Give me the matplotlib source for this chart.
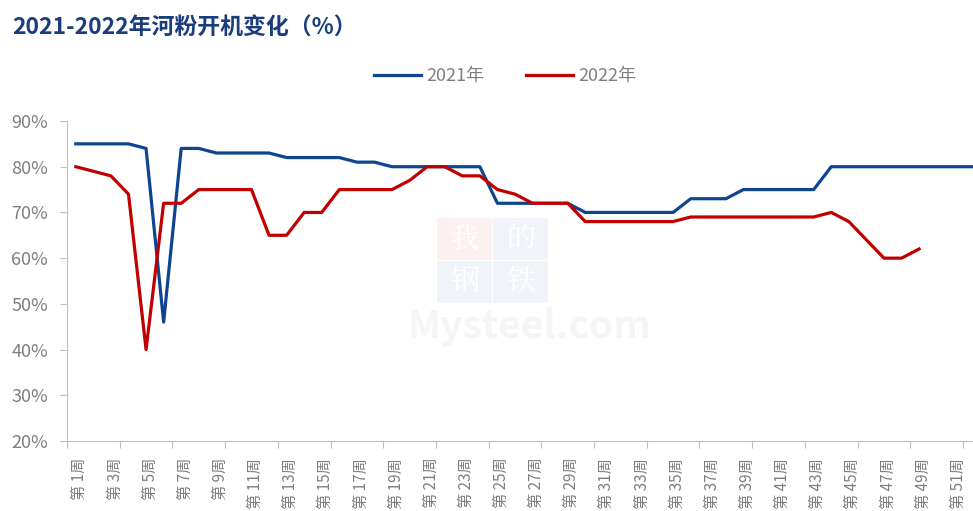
import matplotlib
matplotlib.use('Agg')
import matplotlib.pyplot as plt
import matplotlib.transforms as mtransforms
from matplotlib.patches import Rectangle
from matplotlib.ticker import FixedLocator
import numpy as np

plt.rcParams['font.family'] = ['Noto Sans CJK SC', 'DejaVu Sans']

# weekly data (%)
weeks = list(range(1, 53))
y2021 = [85, 85, 85, 85, 84, 46, 84, 84, 83, 83, 83, 83, 82, 82, 82, 82,
         81, 81, 80, 80, 80, 80, 80, 80, 72, 72, 72, 72, 72, 70, 70, 70,
         70, 70, 70, 73, 73, 73, 75, 75, 75, 75, 75, 80, 80, 80, 80, 80,
         80, 80, 80, 80]
y2022 = [80, 79, 78, 74, 40, 72, 72, 75, 75, 75, 75, 65, 65, 70, 70, 75,
         75, 75, 75, 77, 80, 80, 78, 78, 75, 74, 72, 72, 72, 68, 68, 68,
         68, 68, 68, 69, 69, 69, 69, 69, 69, 69, 69, 70, 68, 64, 60, 60,
         62]
label_weeks = list(range(1, 52, 2))
xlabels = ['第 %d周' % w for w in label_weeks]
yticks = [20, 30, 40, 50, 60, 70, 80, 90]

blue = '#0D4591'
red = '#C00000'
gray = '#7F7F7F'
axis_gray = '#BFBFBF'

W, H = 973, 511
fig = plt.figure(figsize=(W / 100, H / 100), dpi=100)
ax = fig.add_axes([67 / W, 70 / H, 913.6 / W, 320 / H])

ax.plot(weeks[:len(y2021)], y2021, color=blue, lw=2.3, label='2021年', zorder=3,
        solid_joinstyle='round')
ax.plot(weeks[:len(y2022)], y2022, color=red, lw=2.3, label='2022年', zorder=3,
        solid_joinstyle='round')

ax.set_xlim(0.5, 52.5)
ax.set_ylim(20, 90)

ax.set_yticks(yticks)
ax.set_yticklabels(['%d%%' % v for v in yticks])
ax.tick_params(axis='y', length=5, width=0.8, color=axis_gray,
               labelsize=13, labelcolor=gray, pad=8.5)

ax.set_xticks(label_weeks)
ax.set_xticklabels(xlabels, rotation=90, fontsize=11, color=gray)
ax.tick_params(axis='x', which='major', length=0, pad=12)
shift = mtransforms.ScaledTranslation(4 / 100, 0, fig.dpi_scale_trans)
for t in ax.get_xticklabels():
    t.set_transform(t.get_transform() + shift)
ax.xaxis.set_minor_locator(FixedLocator(np.arange(0.5, 53, 3)))
ax.tick_params(axis='x', which='minor', length=5, width=0.8, color=axis_gray)

for s in ['top', 'right']:
    ax.spines[s].set_visible(False)
for s in ['left', 'bottom']:
    ax.spines[s].set_color(axis_gray)
    ax.spines[s].set_linewidth(0.8)

# faint watermark
tf = fig.transFigure
boxes = [(437, 218, '我', '#FDF0F0'), (493, 218, '的', '#F0F3F8'),
         (437, 261, '钢', '#F0F3F8'), (493, 261, '铁', '#F0F3F8')]
for x0, y0, ch, c in boxes:
    ax.add_patch(Rectangle((x0 / W, 1 - (y0 + 42) / H), 55 / W, 42 / H,
                           transform=tf, facecolor=c, edgecolor='none',
                           zorder=0.5, clip_on=False))
    ax.text((x0 + 27.5) / W, 1 - (y0 + 21) / H, ch, transform=tf,
            ha='center', va='center', fontsize=21, color='white',
            family=['Noto Serif CJK SC', 'Noto Sans CJK SC'], zorder=0.6)
ax.text(529 / W, 1 - 326 / H, 'Mysteel.com', transform=tf, ha='center',
        va='center', fontsize=28, fontweight='bold', color='#F5F5F5',
        zorder=0.6)

fig.text(12 / W, 1 - 28 / H, '2021-2022年河粉开机变化（%）', fontsize=16.5,
         fontweight='bold', color='#1B3D7E', ha='left', va='center')

fig.legend(loc='center', bbox_to_anchor=(505 / W, 1 - 76 / H), ncol=2,
           frameon=False, fontsize=13, handlelength=2.6, handletextpad=0.3,
           columnspacing=2.3, labelcolor=gray)

fig.savefig('out.png', dpi=100)
